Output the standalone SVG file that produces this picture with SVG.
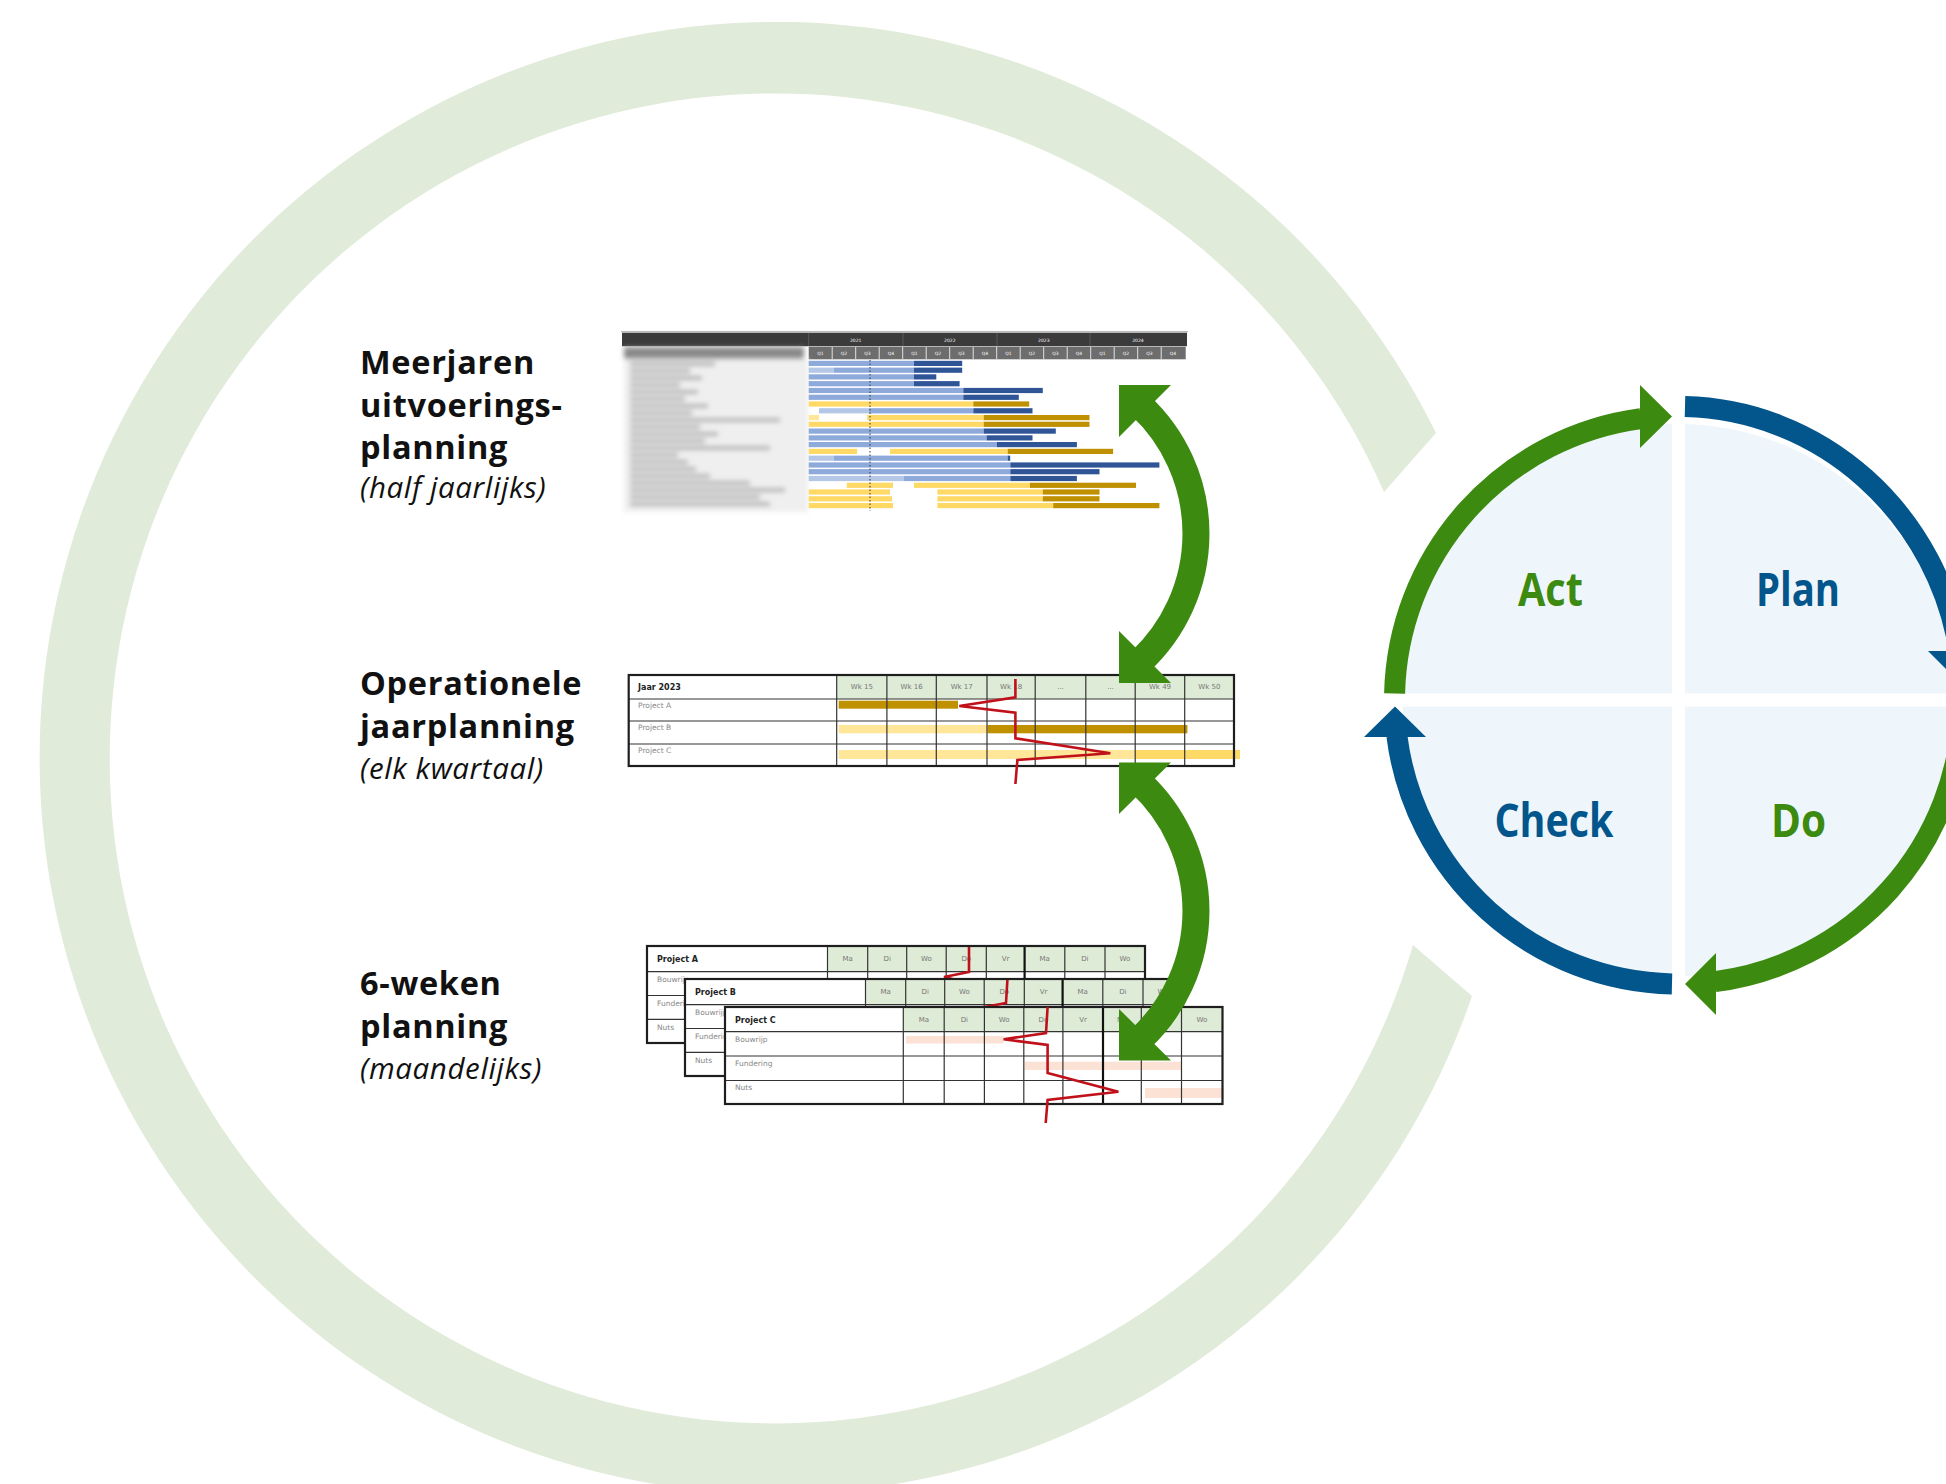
<svg xmlns="http://www.w3.org/2000/svg" width="1946" height="1484" viewBox="0 0 1946 1484">
<defs>
<style>
.lbl{font-family:"Open Sans","Noto Sans",sans-serif;font-weight:700;font-size:32.5px;fill:#111;letter-spacing:0.7px}
.sub{font-family:"Open Sans","Noto Sans",sans-serif;font-style:italic;font-size:29.5px;fill:#111;letter-spacing:0.6px}
.pd{font-family:"Open Sans","Noto Sans",sans-serif;font-weight:700;font-size:47px;text-anchor:middle}
.g{fill:#3c8a0f}.b{fill:#02568c}
.tiny{font-family:"DejaVu Sans",sans-serif;font-size:4.5px;fill:#fff;text-anchor:middle}
.hd{font-family:"DejaVu Sans",sans-serif;font-size:7px;fill:#777;text-anchor:middle}
.rl{font-family:"DejaVu Sans",sans-serif;font-size:7.5px;fill:#888}
.pb{font-family:"DejaVu Sans",sans-serif;font-size:8px;font-weight:700;fill:#222}
.grid{stroke:#333;stroke-width:1.2;fill:none}
.frame{stroke:#1e1e1e;stroke-width:2.2;fill:none}
.red{stroke:#c0111b;stroke-width:2.6;fill:none;stroke-linejoin:miter}
.lb{fill:#8eaadb}.pbl{fill:#b4c7e7}.db{fill:#2f5597}.yl{fill:#ffd966}.py{fill:#ffe699}.gd{fill:#bf9000}.sal{fill:#fbe2d5}
.hcell{fill:#deebd6}
</style>
<filter id="blur" x="-10%" y="-30%" width="120%" height="160%"><feGaussianBlur stdDeviation="2.6"/></filter>
</defs>
<rect width="1946" height="1484" fill="#fff"/>

<!-- big background ring -->
<g id="cycle-ring">
<path d="M 1436 433 A 736 736 0 1 0 1472 996 L 1413 945 A 665 665 0 1 1 1384 492 Z" fill="#e0ebd9"/>
</g>

<!-- Labels -->
<g id="label-meerjaren">
<text class="lbl" x="360" y="374">Meerjaren</text>
<text class="lbl" x="360" y="417">uitvoerings-</text>
<text class="lbl" x="360" y="459">planning</text>
<text class="sub" x="360" y="498">(half jaarlijks)</text>
</g>
<g id="label-operationeel">
<text class="lbl" x="360" y="695">Operationele</text>
<text class="lbl" x="360" y="738">jaarplanning</text>
<text class="sub" x="360" y="779">(elk kwartaal)</text>
</g>
<g id="label-6weken">
<text class="lbl" x="360" y="995">6-weken</text>
<text class="lbl" x="360" y="1038">planning</text>
<text class="sub" x="360" y="1079">(maandelijks)</text>
</g>

<!-- Gantt 1: meerjaren -->
<g id="gantt-meerjaren">
<line x1="621" y1="331.7" x2="1188" y2="331.7" stroke="#aaa" stroke-width="1"/>
<rect x="622" y="332.7" width="565" height="13.5" fill="#3b3b3b"/>
<g stroke="#5a5a5a" stroke-width="1"><line x1="808.7" y1="333" x2="808.7" y2="346"/><line x1="903" y1="333" x2="903" y2="346"/><line x1="997" y1="333" x2="997" y2="346"/><line x1="1090" y1="333" x2="1090" y2="346"/></g>
<text class="tiny" x="855.7" y="341.5">2021</text><text class="tiny" x="949.8" y="341.5">2022</text><text class="tiny" x="1043.8" y="341.5">2023</text><text class="tiny" x="1137.9" y="341.5">2024</text>
<rect x="808.7" y="346.7" width="377" height="12.6" fill="#6d6d6d"/>
<g stroke="#fff" stroke-width="0.8">
<line x1="832.2" y1="347" x2="832.2" y2="359"/><line x1="855.7" y1="347" x2="855.7" y2="359"/><line x1="879.2" y1="347" x2="879.2" y2="359"/><line x1="902.7" y1="347" x2="902.7" y2="359"/><line x1="926.2" y1="347" x2="926.2" y2="359"/><line x1="949.7" y1="347" x2="949.7" y2="359"/><line x1="973.2" y1="347" x2="973.2" y2="359"/><line x1="996.7" y1="347" x2="996.7" y2="359"/><line x1="1020.2" y1="347" x2="1020.2" y2="359"/><line x1="1043.7" y1="347" x2="1043.7" y2="359"/><line x1="1067.2" y1="347" x2="1067.2" y2="359"/><line x1="1090.7" y1="347" x2="1090.7" y2="359"/><line x1="1114.2" y1="347" x2="1114.2" y2="359"/><line x1="1137.7" y1="347" x2="1137.7" y2="359"/><line x1="1161.2" y1="347" x2="1161.2" y2="359"/>
</g>
<g class="tiny">
<text x="820.5" y="354.8">Q1</text><text x="844" y="354.8">Q2</text><text x="867.5" y="354.8">Q3</text><text x="891" y="354.8">Q4</text>
<text x="914.5" y="354.8">Q1</text><text x="938" y="354.8">Q2</text><text x="961.5" y="354.8">Q3</text><text x="985" y="354.8">Q4</text>
<text x="1008.5" y="354.8">Q1</text><text x="1032" y="354.8">Q2</text><text x="1055.5" y="354.8">Q3</text><text x="1079" y="354.8">Q4</text>
<text x="1102.5" y="354.8">Q1</text><text x="1126" y="354.8">Q2</text><text x="1149.5" y="354.8">Q3</text><text x="1173" y="354.8">Q4</text>
</g>
<!-- blurred label column -->
<g filter="url(#blur)">
<rect x="624" y="347" width="180" height="12" fill="#8a8a8a"/>
<rect x="624" y="359" width="184" height="153" fill="#efefef"/>
<g fill="#b0b0b0">
<rect x="630" y="362" width="85" height="4"/><rect x="630" y="369" width="60" height="4"/><rect x="630" y="376" width="72" height="4"/><rect x="630" y="383" width="50" height="4"/>
<rect x="630" y="390" width="68" height="4"/><rect x="630" y="397" width="55" height="4"/><rect x="630" y="404" width="78" height="4"/><rect x="630" y="411" width="62" height="4"/>
<rect x="630" y="418" width="150" height="4"/><rect x="630" y="425" width="70" height="4"/><rect x="630" y="432" width="88" height="4"/><rect x="630" y="439" width="75" height="4"/>
<rect x="630" y="446" width="140" height="4"/><rect x="630" y="453" width="48" height="4"/><rect x="630" y="460" width="58" height="4"/><rect x="630" y="467" width="66" height="4"/>
<rect x="630" y="474" width="80" height="4"/><rect x="630" y="481" width="120" height="4"/><rect x="630" y="488" width="155" height="4"/><rect x="630" y="495" width="130" height="4"/><rect x="630" y="502" width="140" height="4"/>
</g>
</g>
<g>
<rect class="lb" x="808.7" y="360.8" width="105.3" height="5.2"/><rect class="db" x="914" y="360.8" width="48.2" height="5.2"/>
<rect class="pbl" x="808.7" y="367.6" width="25.1" height="5.2"/><rect class="lb" x="833.8" y="367.6" width="80.2" height="5.2"/><rect class="db" x="914" y="367.6" width="48.2" height="5.2"/>
<rect class="lb" x="808.7" y="374.3" width="105.3" height="5.2"/><rect class="db" x="914" y="374.3" width="22.3" height="5.2"/>
<rect class="lb" x="808.7" y="381.1" width="105.3" height="5.2"/><rect class="db" x="914" y="381.1" width="45.6" height="5.2"/>
<rect class="lb" x="808.7" y="387.9" width="154.6" height="5.2"/><rect class="db" x="963.3" y="387.9" width="79.5" height="5.2"/>
<rect class="lb" x="808.7" y="394.7" width="154.6" height="5.2"/><rect class="db" x="963.3" y="394.7" width="55.5" height="5.2"/>
<rect class="yl" x="808.7" y="401.4" width="164.6" height="5.2"/><rect class="gd" x="973.3" y="401.4" width="55.9" height="5.2"/>
<rect class="pbl" x="819" y="408.2" width="50" height="5.2"/><rect class="lb" x="869" y="408.2" width="104.3" height="5.2"/><rect class="db" x="973.3" y="408.2" width="59.2" height="5.2"/>
<rect class="py" x="808.7" y="415" width="10.3" height="5.2"/><rect class="yl" x="867.1" y="415" width="116.6" height="5.2"/><rect class="gd" x="983.7" y="415" width="105.8" height="5.2"/>
<rect class="yl" x="808.7" y="421.7" width="175" height="5.2"/><rect class="gd" x="983.7" y="421.7" width="105.8" height="5.2"/>
<rect class="lb" x="808.7" y="428.5" width="175" height="5.2"/><rect class="db" x="983.7" y="428.5" width="72.1" height="5.2"/>
<rect class="lb" x="808.7" y="435.3" width="177.9" height="5.2"/><rect class="db" x="986.6" y="435.3" width="45.9" height="5.2"/>
<rect class="lb" x="808.7" y="442" width="188.3" height="5.2"/><rect class="db" x="997" y="442" width="79.9" height="5.2"/>
<rect class="yl" x="808.7" y="448.8" width="48.4" height="5.2"/><rect class="yl" x="890" y="448.8" width="117.7" height="5.2"/><rect class="gd" x="1007.7" y="448.8" width="105.4" height="5.2"/>
<rect class="pbl" x="808.7" y="455.6" width="25.1" height="5.2"/><rect class="lb" x="833.8" y="455.6" width="173.9" height="5.2"/><rect class="db" x="1007.7" y="455.6" width="2.5" height="5.2"/>
<rect class="lb" x="808.7" y="462.4" width="201.6" height="5.2"/><rect class="db" x="1010.3" y="462.4" width="149.1" height="5.2"/>
<rect class="lb" x="808.7" y="469.1" width="201.6" height="5.2"/><rect class="db" x="1010.3" y="469.1" width="89.2" height="5.2"/>
<rect class="pbl" x="808.7" y="475.9" width="95.3" height="5.2"/><rect class="lb" x="904" y="475.9" width="106.3" height="5.2"/><rect class="db" x="1010.3" y="475.9" width="66.6" height="5.2"/>
<rect class="yl" x="846.8" y="482.7" width="46.2" height="5.2"/><rect class="yl" x="914" y="482.7" width="115.9" height="5.2"/><rect class="gd" x="1029.9" y="482.7" width="106.1" height="5.2"/>
<rect class="yl" x="808.7" y="489.4" width="81.3" height="5.2"/><rect class="yl" x="937.4" y="489.4" width="105.4" height="5.2"/><rect class="gd" x="1042.8" y="489.4" width="56.7" height="5.2"/>
<rect class="yl" x="808.7" y="496.2" width="83.3" height="5.2"/><rect class="yl" x="937.4" y="496.2" width="105.4" height="5.2"/><rect class="gd" x="1042.8" y="496.2" width="56.7" height="5.2"/>
<rect class="yl" x="808.7" y="503" width="84.3" height="5.2"/><rect class="yl" x="937.4" y="503" width="115.8" height="5.2"/><rect class="gd" x="1053.2" y="503" width="106.2" height="5.2"/>
</g>
<line x1="870" y1="360" x2="870" y2="511" stroke="#333" stroke-width="1" stroke-dasharray="1.5,2"/>
</g>

<!-- Gantt 2: jaarplanning -->
<g id="gantt-jaar">
<rect x="628.7" y="675" width="605.3" height="91" fill="#fff"/>
<rect class="hcell" x="836.7" y="675" width="397.3" height="24"/>
<rect class="gd" x="838.7" y="700.7" width="119.3" height="8"/>
<rect class="py" x="838.7" y="725" width="149" height="8.3"/><rect class="gd" x="987.7" y="725" width="199.7" height="8.3"/>
<rect class="py" x="838.7" y="750" width="296.5" height="9"/><rect class="yl" x="1135.2" y="750" width="104.8" height="9"/>
<g class="grid">
<line x1="836.7" y1="675" x2="836.7" y2="766"/><line x1="886.9" y1="675" x2="886.9" y2="766"/><line x1="936.3" y1="675" x2="936.3" y2="766"/><line x1="987" y1="675" x2="987" y2="766"/><line x1="1035.2" y1="675" x2="1035.2" y2="766"/><line x1="1085.8" y1="675" x2="1085.8" y2="766"/><line x1="1135.2" y1="675" x2="1135.2" y2="766"/><line x1="1184.7" y1="675" x2="1184.7" y2="766"/>
<line x1="628.7" y1="699" x2="1234" y2="699"/><line x1="628.7" y1="721" x2="1234" y2="721"/><line x1="628.7" y1="744" x2="1234" y2="744"/>
</g>
<rect class="frame" x="628.7" y="675" width="605.3" height="91"/>
<text class="pb" x="638" y="690" font-size="7.5">Jaar 2023</text>
<g class="hd"><text x="861.8" y="689">Wk 15</text><text x="911.6" y="689">Wk 16</text><text x="961.7" y="689">Wk 17</text><text x="1011.1" y="689">Wk 18</text><text x="1060.5" y="689">...</text><text x="1110.5" y="689">...</text><text x="1160" y="689">Wk 49</text><text x="1209.4" y="689">Wk 50</text></g>
<g class="rl"><text x="638" y="708">Project A</text><text x="638" y="730">Project B</text><text x="638" y="753">Project C</text></g>
<polyline class="red" points="1015.4,679 1015.4,697.3 959.3,706 1015.4,712.7 1015.4,738.3 1110.3,753.3 1017.4,760 1015.4,784"/>
</g>

<!-- Gantt 3: 6-weken -->
<g id="gantt-6weken">
<g id="table-a">
<rect x="647" y="946" width="498" height="97" fill="#fff"/>
<rect class="hcell" x="827.5" y="946" width="317.5" height="25.7"/>
<g class="grid">
<line x1="827.5" y1="946" x2="827.5" y2="1043"/><line x1="867.7" y1="946" x2="867.7" y2="1043"/><line x1="906.7" y1="946" x2="906.7" y2="1043"/><line x1="946.2" y1="946" x2="946.2" y2="1043"/><line x1="986.3" y1="946" x2="986.3" y2="1043"/><line x1="1064.8" y1="946" x2="1064.8" y2="1043"/><line x1="1105" y1="946" x2="1105" y2="1043"/>
<line x1="647" y1="971.7" x2="1145" y2="971.7"/><line x1="647" y1="995.5" x2="1145" y2="995.5"/><line x1="647" y1="1019.3" x2="1145" y2="1019.3"/>
</g>
<line x1="1024.6" y1="946" x2="1024.6" y2="1043" stroke="#111" stroke-width="2.2"/>
<rect class="frame" x="647" y="946" width="498" height="97"/>
<text class="pb" x="657" y="962">Project A</text>
<g class="hd"><text x="847.6" y="961">Ma</text><text x="887.2" y="961">Di</text><text x="926.5" y="961">Wo</text><text x="966.3" y="961">Do</text><text x="1005.5" y="961">Vr</text><text x="1044.7" y="961">Ma</text><text x="1084.9" y="961">Di</text><text x="1125" y="961">Wo</text></g>
<g class="rl"><text x="657" y="982">Bouwrijp</text><text x="657" y="1006">Fundering</text><text x="657" y="1030">Nuts</text></g>
<polyline class="red" points="969,947 969,972 944,977 969,983 969,1000"/>
</g>
<g id="table-b">
<rect x="685" y="979" width="498" height="97" fill="#fff"/>
<rect class="hcell" x="865.5" y="979" width="317.5" height="25.7"/>
<g class="grid">
<line x1="865.5" y1="979" x2="865.5" y2="1076"/><line x1="905.7" y1="979" x2="905.7" y2="1076"/><line x1="944.7" y1="979" x2="944.7" y2="1076"/><line x1="984.2" y1="979" x2="984.2" y2="1076"/><line x1="1024.3" y1="979" x2="1024.3" y2="1076"/><line x1="1102.8" y1="979" x2="1102.8" y2="1076"/><line x1="1143" y1="979" x2="1143" y2="1076"/>
<line x1="685" y1="1004.7" x2="1183" y2="1004.7"/><line x1="685" y1="1028.5" x2="1183" y2="1028.5"/><line x1="685" y1="1052.3" x2="1183" y2="1052.3"/>
</g>
<line x1="1062.6" y1="979" x2="1062.6" y2="1076" stroke="#111" stroke-width="2.2"/>
<rect class="frame" x="685" y="979" width="498" height="97"/>
<text class="pb" x="695" y="995">Project B</text>
<g class="hd"><text x="885.6" y="994">Ma</text><text x="925.2" y="994">Di</text><text x="964.5" y="994">Wo</text><text x="1004.3" y="994">Do</text><text x="1043.5" y="994">Vr</text><text x="1082.7" y="994">Ma</text><text x="1122.9" y="994">Di</text><text x="1163" y="994">Wo</text></g>
<g class="rl"><text x="695" y="1015">Bouwrijp</text><text x="695" y="1039">Fundering</text><text x="695" y="1063">Nuts</text></g>
<polyline class="red" points="1007.4,980 1006,1003 982,1007.5 1006,1013"/>
</g>
<g id="table-c">
<rect x="725" y="1007" width="497.5" height="97" fill="#fff"/>
<rect class="hcell" x="903.3" y="1007" width="319.2" height="24.7"/>
<rect class="sal" x="906" y="1036" width="97.6" height="7.5"/>
<rect class="sal" x="1024.6" y="1061.7" width="156.9" height="8.3"/>
<rect class="sal" x="1145" y="1088" width="78.6" height="10"/>
<g class="grid">
<line x1="903.3" y1="1007" x2="903.3" y2="1104"/><line x1="944.2" y1="1007" x2="944.2" y2="1104"/><line x1="984.4" y1="1007" x2="984.4" y2="1104"/><line x1="1023.8" y1="1007" x2="1023.8" y2="1104"/><line x1="1062.9" y1="1007" x2="1062.9" y2="1104"/><line x1="1141.3" y1="1007" x2="1141.3" y2="1104"/><line x1="1181.5" y1="1007" x2="1181.5" y2="1104"/>
<line x1="725" y1="1031.7" x2="1222.5" y2="1031.7"/><line x1="725" y1="1056" x2="1222.5" y2="1056"/><line x1="725" y1="1080.5" x2="1222.5" y2="1080.5"/>
</g>
<line x1="1103" y1="1007" x2="1103" y2="1104" stroke="#111" stroke-width="2.2"/>
<rect class="frame" x="725" y="1007" width="497.5" height="97"/>
<text class="pb" x="735" y="1023">Project C</text>
<g class="hd"><text x="923.8" y="1022">Ma</text><text x="964.3" y="1022">Di</text><text x="1004.1" y="1022">Wo</text><text x="1043.4" y="1022">Do</text><text x="1083" y="1022">Vr</text><text x="1122.2" y="1022">Ma</text><text x="1161.4" y="1022">Di</text><text x="1202" y="1022">Wo</text></g>
<g class="rl"><text x="735" y="1042">Bouwrijp</text><text x="735" y="1066">Fundering</text><text x="735" y="1090">Nuts</text></g>
<polyline class="red" points="1047.6,1007 1046,1033 1003.6,1039.3 1047.6,1045 1047.6,1073 1118.4,1091.7 1047.6,1100 1045.7,1123"/>
</g>
</g>

<!-- PDCA circle -->
<g id="pdca">
<circle cx="1678.5" cy="700" r="276" fill="#eef6fb"/>
<rect x="1672" y="405" width="13" height="590" fill="#fff"/>
<rect x="1390" y="693.5" width="580" height="13" fill="#fff"/>
<g id="pdca-act"><text class="pd g" x="1550.5" y="606" textLength="65" lengthAdjust="spacingAndGlyphs">Act</text></g>
<g id="pdca-plan"><text class="pd b" x="1798" y="606" textLength="84" lengthAdjust="spacingAndGlyphs">Plan</text></g>
<g id="pdca-check"><text class="pd b" x="1554" y="837" textLength="119" lengthAdjust="spacingAndGlyphs">Check</text></g>
<g id="pdca-do"><text class="pd g" x="1798.5" y="837" textLength="55" lengthAdjust="spacingAndGlyphs">Do</text></g>
</g>

<!-- Connectors -->
<g id="connectors">
<g id="pdca-arcs" fill="none" stroke-width="21">
<path d="M 1394.6 693.5 A 284 284 0 0 1 1641 418.6" stroke="#3c8a0f"/>
<polygon points="1640,385 1672,416.5 1640,448" fill="#3c8a0f" stroke="none"/>
<path d="M 1685 406.6 A 285 293.5 0 0 1 1959.5 652" stroke="#02568c"/>
<polygon points="1928,651 1990,651 1959,682" fill="#02568c" stroke="none"/>
<path d="M 1962.4 706.5 A 284 284 0 0 1 1715 981.6" stroke="#3c8a0f"/>
<polygon points="1716,953 1716,1015 1685,984" fill="#3c8a0f" stroke="none"/>
<path d="M 1672 983.9 A 284 284 0 0 1 1396.9 736" stroke="#02568c"/>
<polygon points="1364,737 1426,737 1395,706.5" fill="#02568c" stroke="none"/>
</g>
<g id="arrow-1-2">
<path d="M 1140.3 405.5 A 175 175 0 0 1 1140.3 661.5" fill="none" stroke="#3c8a0f" stroke-width="27"/>
<polygon points="1119,385 1171,385 1119,437" fill="#3c8a0f"/>
<polygon points="1119,683 1119,631 1171,683" fill="#3c8a0f"/>
</g>
<g id="arrow-2-3">
<path d="M 1140.3 783 A 175 175 0 0 1 1140.3 1039" fill="none" stroke="#3c8a0f" stroke-width="27"/>
<polygon points="1119,762.5 1171,762.5 1119,814" fill="#3c8a0f"/>
<polygon points="1119,1060.5 1119,1009 1171,1060.5" fill="#3c8a0f"/>
</g>
</g>
</svg>
